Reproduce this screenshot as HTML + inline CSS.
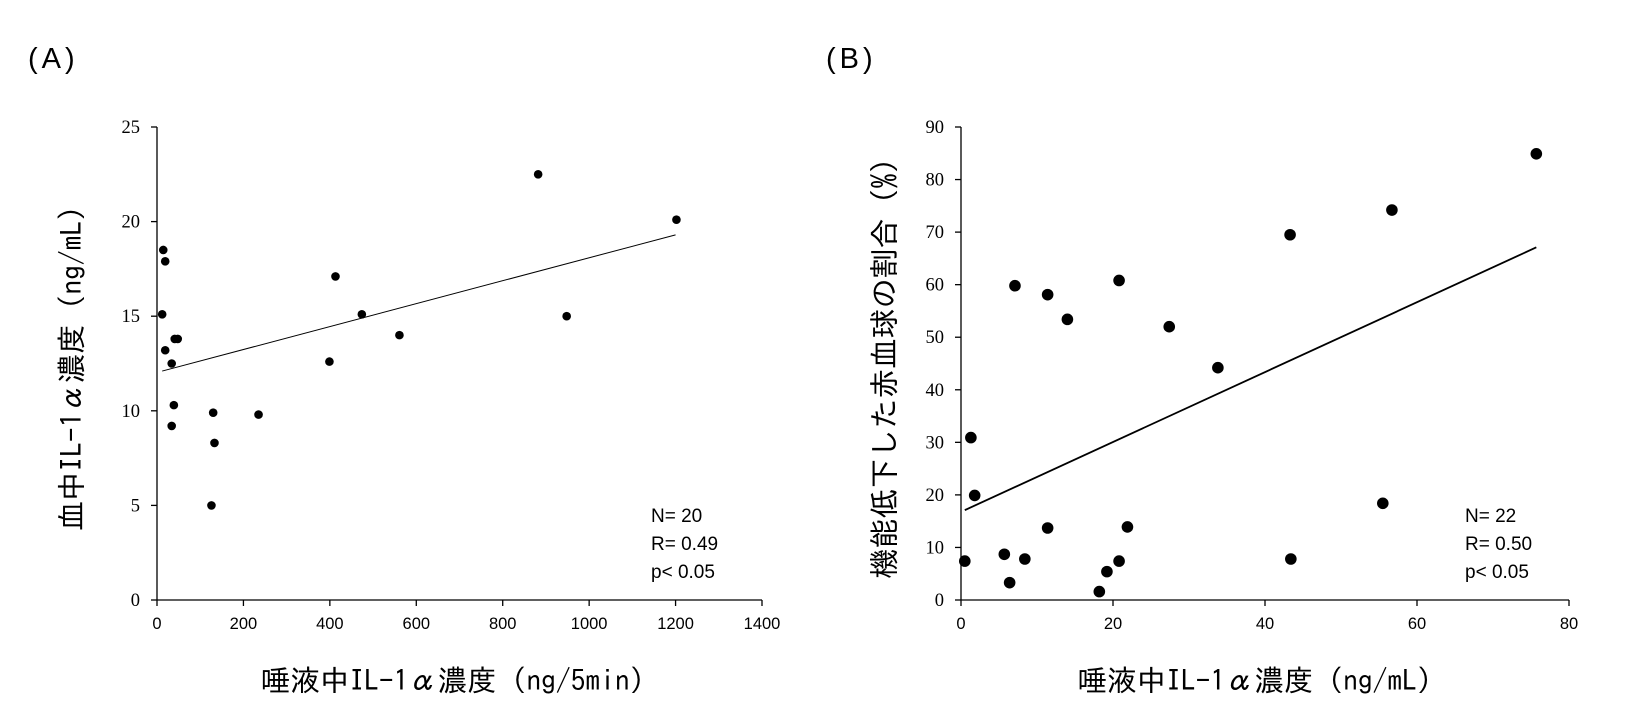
<!DOCTYPE html>
<html><head><meta charset="utf-8"><style>
body{margin:0;background:#fff;}
svg{display:block;font-family:"Liberation Sans","Noto Sans CJK JP",sans-serif;}
.cj{font-family:"IPAGothic","Noto Sans CJK JP",sans-serif;}
</style></head><body>
<svg id="c" width="1636" height="713"></svg>
<script>
const aX=[14.5,19,12,19,41,48,34,39,34,133,130,126,235,399,413,474,561,882,948,1202];
const aY=[18.5,17.9,15.1,13.2,13.8,13.8,12.5,10.3,9.2,8.3,9.9,5.0,9.8,12.6,17.1,15.1,14.0,22.5,15.0,20.1];
const aLine=[[12,12.1],[1200,19.3]];
const aXTicks=[0,200,400,600,800,1000,1200,1400];
const aYTicks=[0,5,10,15,20,25];
const bX=[0.5,1.3,1.8,5.7,6.4,7.1,8.4,11.4,11.4,14.0,18.2,19.2,20.8,20.8,21.9,27.4,33.8,43.3,43.4,55.5,56.7,75.7];
const bY=[7.4,30.9,19.9,8.7,3.3,59.8,7.8,58.1,13.7,53.4,1.6,5.4,60.8,7.4,13.9,52.0,44.2,69.5,7.8,18.4,74.2,84.9];
const bLine=[[0.5,17.1],[75.7,67.1]];
const bXTicks=[0,20,40,60,80];
const bYTicks=[0,10,20,30,40,50,60,70,80,90];
const NS='http://www.w3.org/2000/svg';
const svg=document.getElementById('c');
function mk(t,a,p){const e=document.createElementNS(NS,t);for(const k in a)e.setAttribute(k,a[k]);(p||svg).appendChild(e);return e;}
function txt(s,a,p){const e=mk('text',a,p);e.textContent=s;return e;}
function panel(o){
  const g=mk('g',{});
  
  
  const sx=v=>o.x0+(v-o.xmin)/(o.xmax-o.xmin)*(o.x1-o.x0);
  const sy=v=>o.y0-(v-o.ymin)/(o.ymax-o.ymin)*(o.y0-o.y1);
  const ax=mk('line',{x1:o.x0,y1:o.y0,x2:o.x1,y2:o.y0,stroke:'#000','stroke-width':1.3},g);
  
  
  const ay=mk('line',{x1:o.x0,y1:o.y0,x2:o.x0,y2:o.y1,stroke:'#000','stroke-width':1.3},g);
  
  
  o.xt.forEach(v=>{const x=sx(v);mk('line',{x1:x,y1:o.y0,x2:x,y2:o.y0+6,stroke:'#000','stroke-width':1.3},g);
    const t=txt(String(v),{x:x,y:o.y0+29,'text-anchor':'middle','font-size':16.5},g);
    
    });
  o.yt.forEach(v=>{const y=sy(v);mk('line',{x1:o.x0-6,y1:y,x2:o.x0,y2:y,stroke:'#000','stroke-width':1.3},g);
    const t=txt(String(v),{x:o.x0-17,y:y+6,'text-anchor':'end','font-size':18.5,'font-family':'"Liberation Serif",serif'},g);
    
    });
  const l=mk('line',{x1:sx(o.line[0][0]),y1:sy(o.line[0][1]),x2:sx(o.line[1][0]),y2:sy(o.line[1][1]),stroke:'#000','stroke-width':o.lw},g);
  
  
  o.xs.forEach((v,i)=>{const c=mk('circle',{cx:sx(v),cy:sy(o.ys[i]),r:o.r,fill:'#000'},g);
    
    });
}
panel({name:'panel-a',x0:157,x1:762,y0:600,y1:127,xmin:0,xmax:1400,ymin:0,ymax:25,xt:aXTicks,yt:aYTicks,xs:aX,ys:aY,line:aLine,r:4.3,lw:1});
panel({name:'panel-b',x0:961,x1:1569,y0:600,y1:127,xmin:0,xmax:80,ymin:0,ymax:90,xt:bXTicks,yt:bYTicks,xs:bX,ys:bY,line:bLine,r:5.8,lw:1.8});
</script>
<svg style="position:absolute;left:0;top:0" width="1636" height="713">
<text x="28" y="68" font-size="29" letter-spacing="4">(A)</text>
<text x="826" y="68" font-size="29" letter-spacing="4">(B)</text>
<text class="cj" x="460" y="691" font-size="29.5" text-anchor="middle">唾液中IL-1α濃度（ng/5min）</text>
<text class="cj" x="1262" y="691" font-size="29.5" text-anchor="middle">唾液中IL-1α濃度（ng/mL）</text>
<text class="cj" transform="translate(82,361) rotate(-90)" font-size="29.5" text-anchor="middle">血中IL-1α濃度（ng/mL）</text>
<text class="cj" transform="translate(895,361) rotate(-90)" font-size="30" text-anchor="middle">機能低下した赤血球の割合（%）</text>
<g font-size="19">
<text x="651" y="522">N= 20</text><text x="651" y="550">R= 0.49</text><text x="651" y="578">p&lt; 0.05</text></g>
<g font-size="19">
<text x="1465" y="522">N= 22</text><text x="1465" y="550">R= 0.50</text><text x="1465" y="578">p&lt; 0.05</text></g>
</svg>
</body></html>
